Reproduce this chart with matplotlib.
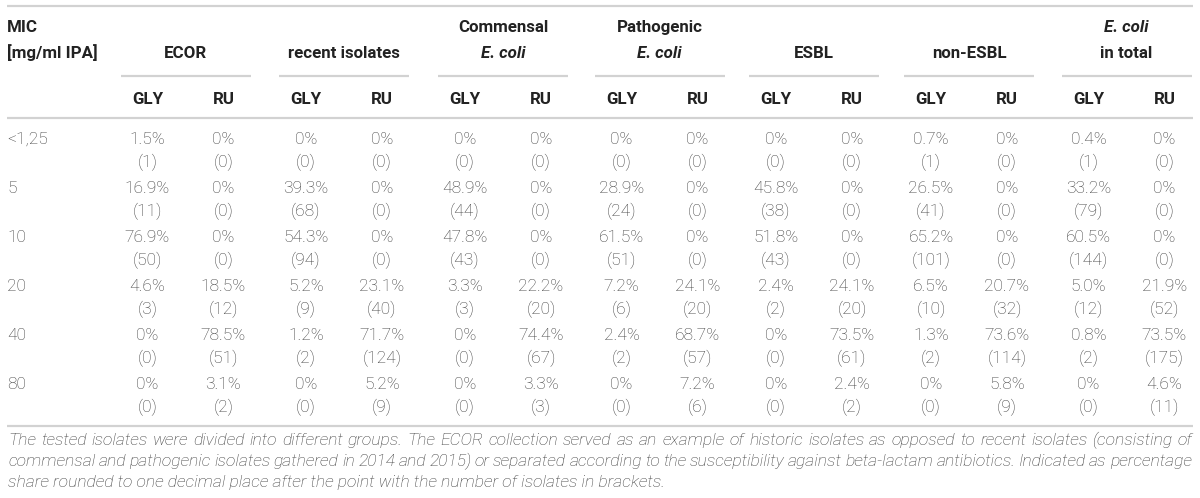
import matplotlib
matplotlib.use("Agg")
import matplotlib.pyplot as plt

# ---------------- data ----------------
mic_labels = ["<1,25", "5", "10", "20", "40", "80"]

group_line1 = ["", "", "Commensal", "Pathogenic", "", "", "E. coli"]
group_line2 = ["ECOR", "recent isolates", "E. coli", "E. coli", "ESBL", "non-ESBL", "in total"]
italic_line1 = [False, False, False, False, False, False, True]
italic_line2 = [False, False, True, True, False, False, False]
sub_labels = ["GLY", "RU"]

ecor_gly_pct = [1.5, 16.9, 76.9, 4.6, 0, 0]
ecor_gly_n = [1, 11, 50, 3, 0, 0]
ecor_ru_pct = [0, 0, 0, 18.5, 78.5, 3.1]
ecor_ru_n = [0, 0, 0, 12, 51, 2]

recent_gly_pct = [0, 39.3, 54.3, 5.2, 1.2, 0]
recent_gly_n = [0, 68, 94, 9, 2, 0]
recent_ru_pct = [0, 0, 0, 23.1, 71.7, 5.2]
recent_ru_n = [0, 0, 0, 40, 124, 9]

comm_gly_pct = [0, 48.9, 47.8, 3.3, 0, 0]
comm_gly_n = [0, 44, 43, 3, 0, 0]
comm_ru_pct = [0, 0, 0, 22.2, 74.4, 3.3]
comm_ru_n = [0, 0, 0, 20, 67, 3]

path_gly_pct = [0, 28.9, 61.5, 7.2, 2.4, 0]
path_gly_n = [0, 24, 51, 6, 2, 0]
path_ru_pct = [0, 0, 0, 24.1, 68.7, 7.2]
path_ru_n = [0, 0, 0, 20, 57, 6]

esbl_gly_pct = [0, 45.8, 51.8, 2.4, 0, 0]
esbl_gly_n = [0, 38, 43, 2, 0, 0]
esbl_ru_pct = [0, 0, 0, 24.1, 73.5, 2.4]
esbl_ru_n = [0, 0, 0, 20, 61, 2]

nonesbl_gly_pct = [0.7, 26.5, 65.2, 6.5, 1.3, 0]
nonesbl_gly_n = [1, 41, 101, 10, 2, 0]
nonesbl_ru_pct = [0, 0, 0, 20.7, 73.6, 5.8]
nonesbl_ru_n = [0, 0, 0, 32, 114, 9]

total_gly_pct = [0.4, 33.2, 60.5, 5.0, 0.8, 0]
total_gly_n = [1, 79, 144, 12, 2, 0]
total_ru_pct = [0, 0, 0, 21.9, 73.5, 4.6]
total_ru_n = [0, 0, 0, 52, 175, 11]

footnote = [
    "The tested isolates were divided into different groups. The ECOR collection served as an example of historic isolates as opposed to recent isolates (consisting of",
    "commensal and pathogenic isolates gathered in 2014 and 2015) or separated according to the susceptibility against beta-lactam antibiotics. Indicated as percentage",
    "share rounded to one decimal place after the point with the number of isolates in brackets.",
]

columns = [
    (ecor_gly_pct, ecor_gly_n), (ecor_ru_pct, ecor_ru_n),
    (recent_gly_pct, recent_gly_n), (recent_ru_pct, recent_ru_n),
    (comm_gly_pct, comm_gly_n), (comm_ru_pct, comm_ru_n),
    (path_gly_pct, path_gly_n), (path_ru_pct, path_ru_n),
    (esbl_gly_pct, esbl_gly_n), (esbl_ru_pct, esbl_ru_n),
    (nonesbl_gly_pct, nonesbl_gly_n), (nonesbl_ru_pct, nonesbl_ru_n),
    (total_gly_pct, total_gly_n), (total_ru_pct, total_ru_n),
]

# ---------------- layout ----------------
W, H = 1200, 498
FONT = "Roboto"
HEAD_C = "#222222"
DATA_C = "#3d3d3d"
LINE_C = "#d2d2d2"

fig = plt.figure(figsize=(W / 100, H / 100), dpi=100)
ax = fig.add_axes([0, 0, 1, 1])
ax.set_xlim(0, W)
ax.set_ylim(H, 0)
ax.axis("off")

group_centers = [185.5, 344, 503, 659.5, 814, 969, 1126.5]
half_w = 65
sub_off = 38

# horizontal rules
for y in (6, 118, 426):
    ax.plot([7, 1193], [y, y], color=LINE_C, lw=1.6, solid_capstyle="butt")
for c in group_centers:
    ax.plot([c - half_w, c + half_w], [76, 76], color=LINE_C, lw=1.6, solid_capstyle="butt")

hfs = 12.2
ax.text(7, 27, "MIC", fontsize=hfs, fontweight="bold", color=HEAD_C, family=FONT, va="center", ha="left")
ax.text(7, 53, "[mg/ml IPA]", fontsize=hfs, fontweight="bold", color=HEAD_C, family=FONT, va="center", ha="left")

for i, c in enumerate(group_centers):
    if group_line1[i]:
        ax.text(c, 27, group_line1[i], fontsize=hfs, fontweight="bold", color=HEAD_C, family=FONT,
                style="italic" if italic_line1[i] else "normal", va="center", ha="center")
    ax.text(c, 53, group_line2[i], fontsize=hfs, fontweight="bold", color=HEAD_C, family=FONT,
            style="italic" if italic_line2[i] else "normal", va="center", ha="center")
    for j, lab in enumerate(sub_labels):
        x = c - sub_off if j == 0 else c + sub_off
        ax.text(x, 99, lab, fontsize=hfs, fontweight="bold", color=HEAD_C, family=FONT,
                va="center", ha="center")

row_y0 = 139
row_h = 49
dfs = 12.5
for r, lab in enumerate(mic_labels):
    y = row_y0 + r * row_h
    ax.text(7, y, lab, fontsize=dfs, fontweight="light", color=DATA_C, family=FONT, va="center", ha="left")

for k, (pct, n) in enumerate(columns):
    c = group_centers[k // 2]
    x = c - sub_off if k % 2 == 0 else c + sub_off
    for r in range(len(mic_labels)):
        y = row_y0 + r * row_h
        p = pct[r]
        ptxt = "0%" if p == 0 else f"{p:.1f}%"
        ax.text(x, y, ptxt, fontsize=dfs, fontweight="light", color=DATA_C, family=FONT, va="center", ha="center")
        ax.text(x, y + 23, f"({n[r]})", fontsize=dfs, fontweight="light", color=DATA_C, family=FONT,
                va="center", ha="center")

# footnote, justified
ffs = 12.6
renderer = fig.canvas.get_renderer()
left, right = 8, 1192
foot_y = [440, 461, 482]
for li, line in enumerate(footnote):
    y = foot_y[li]
    if li == len(footnote) - 1:
        ax.text(left, y, line, fontsize=ffs, style="italic", fontweight="light", color=DATA_C,
                family=FONT, va="center", ha="left")
        continue
    words = line.split(" ")
    texts = []
    widths = []
    for w in words:
        t = ax.text(0, y, w, fontsize=ffs, style="italic", fontweight="light", color=DATA_C,
                    family=FONT, va="center", ha="left")
        bb = t.get_window_extent(renderer=renderer)
        texts.append(t)
        widths.append(bb.width)
    gap = (right - left - sum(widths)) / (len(words) - 1)
    x = left
    for t, wdt in zip(texts, widths):
        t.set_x(x)
        x += wdt + gap

fig.savefig("out.png", dpi=100, facecolor="white")
